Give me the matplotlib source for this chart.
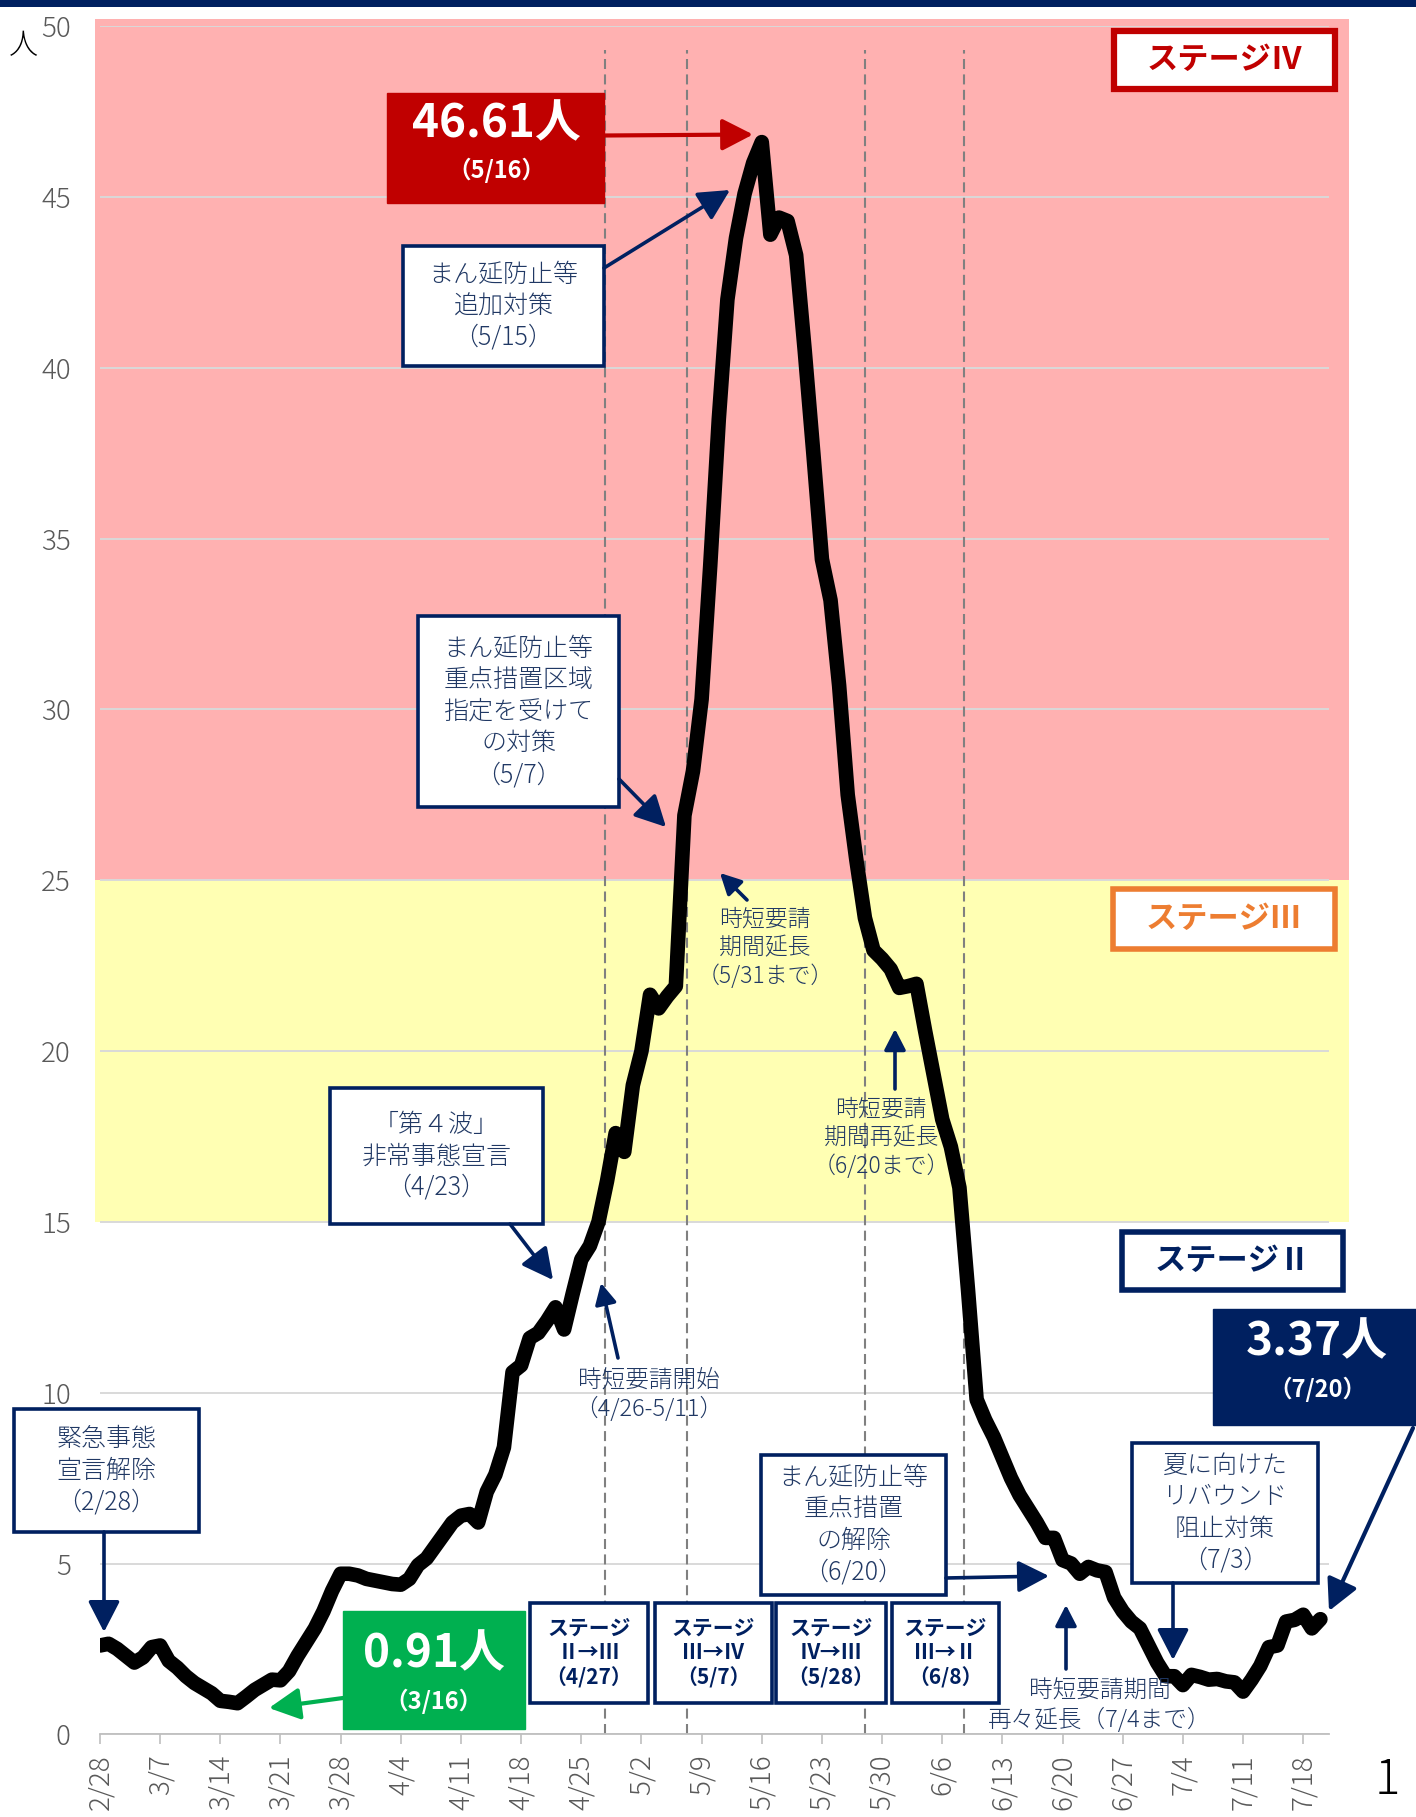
import matplotlib
matplotlib.use('Agg')
import matplotlib.pyplot as plt
from matplotlib.patches import Rectangle, FancyArrowPatch, ArrowStyle
from matplotlib.transforms import blended_transform_factory
import numpy as np

plt.rcParams['font.family'] = ['Noto Sans CJK JP', 'DejaVu Sans']

# ---------------- data ----------------
# daily values (people), 2/28 .. 7/20
values = [
    2.60, 2.65, 2.50, 2.30, 2.10, 2.25, 2.55, 2.60, 2.15, 1.95,
    1.70, 1.50, 1.35, 1.20, 0.98, 0.95, 0.91, 1.10, 1.30, 1.45,
    1.60, 1.58, 1.85, 2.30, 2.70, 3.10, 3.60, 4.20, 4.70, 4.70,
    4.65, 4.55, 4.50, 4.45, 4.40, 4.38, 4.55, 4.95, 5.15, 5.50,
    5.85, 6.20, 6.40, 6.45, 6.20, 7.10, 7.60, 8.40, 10.60, 10.80,
    11.60, 11.75, 12.10, 12.50, 11.85, 12.90, 13.90, 14.30, 15.00, 16.20,
    17.60, 17.05, 19.00, 20.00, 21.65, 21.25, 21.60, 21.90, 26.90, 28.20,
    30.30, 34.20, 38.50, 42.00, 43.80, 45.10, 46.00, 46.61, 43.90, 44.40,
    44.30, 43.30, 40.50, 37.50, 34.40, 33.20, 30.70, 27.50, 25.60, 23.90,
    22.95, 22.70, 22.40, 21.85, 21.90, 21.97, 20.60, 19.30, 18.00, 17.20,
    16.00, 13.00, 9.80, 9.20, 8.70, 8.10, 7.50, 7.00, 6.60, 6.20,
    5.75, 5.75, 5.10, 5.00, 4.70, 4.90, 4.80, 4.75, 4.00, 3.60,
    3.30, 3.10, 2.60, 2.10, 1.70, 1.70, 1.44, 1.74, 1.68, 1.60,
    1.62, 1.55, 1.52, 1.25, 1.60, 2.00, 2.55, 2.60, 3.30, 3.35,
    3.50, 3.10, 3.37,
]
tick_labels = ["2/28", "3/7", "3/14", "3/21", "3/28", "4/4", "4/11", "4/18",
               "4/25", "5/2", "5/9", "5/16", "5/23", "5/30", "6/6", "6/13",
               "6/20", "6/27", "7/4", "7/11", "7/18"]
tick_days = [0, 7, 14, 21, 28, 35, 42, 49, 56, 63, 70, 77, 84, 91, 98, 105,
             112, 119, 126, 133, 140]
stage_change_days = [58.8, 68.3, 89.05, 100.5]   # 4/27, 5/7, 5/28, 6/8
y_ticks = [0, 5, 10, 15, 20, 25, 30, 35, 40, 45, 50]
stage4_range = (25, 50.2)
stage3_range = (15, 25)

# ---------------- style ----------------
NAVY = '#002060'
TXT = '#203864'
RED = '#C00000'
GREEN = '#00B050'
ORANGE = '#ED7D31'
PINK = '#FFB1B1'
YELLOW = '#FFFFB3'
GRID = '#D9D9D9'
LABEL = '#595959'

W, H = 1416, 1817
fig = plt.figure(figsize=(W / 100, H / 100), dpi=100)
fig.patch.set_facecolor('white')

y0px, y50px = 1734.3, 26.3
ax = fig.add_axes([100 / W, (H - y0px) / H, 1229 / W, (y0px - y50px) / H])

x = np.arange(len(values))
ax.plot(x, values, color='black', lw=10.5, solid_joinstyle='round',
        solid_capstyle='round', zorder=5)
ax.set_xlim(0, 143)
ax.set_ylim(0, 50)

# bands (extend slightly beyond plot area)
bt = blended_transform_factory(ax.transAxes, ax.transData)
for (lo, hi), col in [(stage4_range, PINK), (stage3_range, YELLOW)]:
    ax.add_patch(Rectangle((-0.004, lo), 1.0203, hi - lo, transform=bt,
                           facecolor=col, edgecolor='none', zorder=0.2,
                           clip_on=False))

# dashed stage-change lines
for d in stage_change_days:
    ax.plot([d, d], [0, 49.3], color='#808080', lw=1.5,
            ls=(0, (4.8, 2.6)), zorder=2)

ax.set_yticks(y_ticks)
ax.yaxis.grid(True, color=GRID, lw=1.4)
ax.set_axisbelow(True)
for s in ['left', 'right', 'top']:
    ax.spines[s].set_visible(False)
ax.spines['bottom'].set_color('#BFBFBF')
ax.spines['bottom'].set_linewidth(1.3)
ax.set_facecolor('none')

ax.tick_params(axis='y', length=0, pad=21, labelsize=20, labelcolor=LABEL)
ax.set_xticks(tick_days)
ax.set_xticklabels(tick_labels, rotation=90, va='top', ha='center')
ax.tick_params(axis='x', length=7.5, width=1.2, color='#BFBFBF', pad=7,
               labelsize=20, labelcolor=LABEL)
for lab in ax.get_xticklabels() + ax.get_yticklabels():
    lab.set_fontweight('light')


# ---------------- helpers (figure pixel coords, origin top-left) ----------
def fx(px):
    return px / W


def fy(py):
    return 1 - py / H


def rect(x0, y0, x1, y1, fc='white', ec=NAVY, lw=2.6, z=6):
    fig.add_artist(Rectangle((fx(x0), fy(y1)), (x1 - x0) / W, (y1 - y0) / H,
                             transform=fig.transFigure, facecolor=fc,
                             edgecolor=ec, linewidth=lw, zorder=z))


def text(cx, cy, s, size=18, color=TXT, weight='light', ls=1.25, z=8):
    fig.text(fx(cx), fy(cy), s, ha='center', va='center', ma='center',
             fontsize=size, color=color, fontweight=weight, linespacing=ls,
             zorder=z)


def box(x0, y0, x1, y1, s, size=18, color=TXT, weight='light', ls=1.25,
        fc='white', ec=NAVY, lw=2.6):
    rect(x0, y0, x1, y1, fc=fc, ec=ec, lw=lw)
    text((x0 + x1) / 2, (y0 + y1) / 2, s, size=size, color=color,
         weight=weight, ls=ls)


def arrow(x0, y0, x1, y1, color=NAVY, lw=2.6, scale=27):
    st = ArrowStyle('-|>', head_length=0.7, head_width=0.36)
    fig.add_artist(FancyArrowPatch((fx(x0), fy(y0)), (fx(x1), fy(y1)),
                                   transform=fig.transFigure, arrowstyle=st,
                                   mutation_scale=scale, color=color, lw=lw,
                                   shrinkA=0, shrinkB=0, zorder=7))


# top navy bar
fig.add_artist(Rectangle((0, 1 - 7 / H), 1, 7 / H, transform=fig.transFigure,
                         facecolor=NAVY, edgecolor='none', zorder=10))

# unit label & page number
fig.text(fx(23), fy(46), '人', ha='center', va='center', fontsize=21,
         color='black', fontweight='light')
fig.text(fx(1387), fy(1780), '1', ha='center', va='center', fontsize=34,
         color='black', fontweight='light')

# stage label boxes
box(1114, 31, 1335, 89, 'ステージⅣ', size=22.5, color=RED, weight='bold',
    ec=RED, lw=4.5)
box(1113, 889, 1335, 949, 'ステージⅢ', size=22.5, color=ORANGE, weight='bold',
    ec=ORANGE, lw=4.0)
box(1122, 1232, 1343, 1290, 'ステージⅡ', size=22.5, color=NAVY, weight='bold',
    ec=NAVY, lw=4.0)

# peak box
rect(387, 93, 604, 203, fc=RED, ec=RED, lw=1)
text(496, 124, '46.61人', size=33, color='white', weight='bold')
text(496, 170, '（5/16）', size=17, color='white', weight='bold')
arrow(604, 135.5, 753, 134.5, color=RED, lw=3)

# minimum box
rect(343, 1611, 525, 1729, fc=GREEN, ec=GREEN, lw=1)
text(434, 1654, '0.91人', size=33, color='white', weight='bold')
text(434, 1701, '（3/16）', size=17, color='white', weight='bold')
arrow(343, 1698, 269, 1708, color=GREEN, lw=3)

# latest box
rect(1213, 1309, 1420, 1425, fc=NAVY, ec=NAVY, lw=1)
text(1317, 1342, '3.37人', size=33, color='white', weight='bold')
text(1317, 1389, '（7/20）', size=17, color='white', weight='bold')
arrow(1413, 1428, 1329, 1611, color=NAVY, lw=3)

# annotation boxes
box(403, 246, 604, 366, 'まん延防止等\n追加対策\n（5/15）', size=18)
arrow(604, 268, 730, 190)

box(418, 616, 619, 807,
    'まん延防止等\n重点措置区域\n指定を受けて\nの対策\n（5/7）', size=18)
arrow(619, 779, 666, 827)

box(330, 1088, 543, 1224, '「第４波」\n非常事態宣言\n（4/23）', size=18)
arrow(510, 1224, 553, 1280)

box(14, 1409, 199, 1532, '緊急事態\n宣言解除\n（2/28）', size=18)
arrow(104, 1532, 104, 1632)

box(761, 1455, 946, 1595, 'まん延防止等\n重点措置\nの解除\n（6/20）', size=18)
arrow(946, 1578, 1049, 1576)

box(1132, 1443, 1318, 1583, '夏に向けた\nリバウンド\n阻止対策\n（7/3）', size=18)
arrow(1173, 1583, 1173, 1660)

# stage change boxes
for (bx0, bx1), s in zip([(530, 648), (655, 772), (776, 886), (892, 999)],
                         ['ステージ\nⅡ→Ⅲ\n（4/27）', 'ステージ\nⅢ→Ⅳ\n（5/7）',
                          'ステージ\nⅣ→Ⅲ\n（5/28）', 'ステージ\nⅢ→Ⅱ\n（6/8）']):
    box(bx0, 1603, bx1, 1703, s, size=15, color=NAVY, weight='bold', ls=1.2)

# free text annotations
text(765, 948, '時短要請\n期間延長\n（5/31まで）', size=16.5, ls=1.2)
arrow(747, 900, 720, 873, scale=18)

text(881, 1138, '時短要請\n期間再延長\n（6/20まで）', size=16.5, ls=1.2)
arrow(895, 1089, 895, 1029, scale=18)

text(649, 1395, '時短要請開始\n（4/26-5/11）', size=17, ls=1.2)
arrow(618, 1358, 601, 1283, scale=18)

text(1100, 1706, '時短要請期間\n再々延長（7/4まで）', size=17, ls=1.2)
arrow(1066, 1669, 1066, 1605, scale=18)

fig.savefig('out.png', dpi=100)
